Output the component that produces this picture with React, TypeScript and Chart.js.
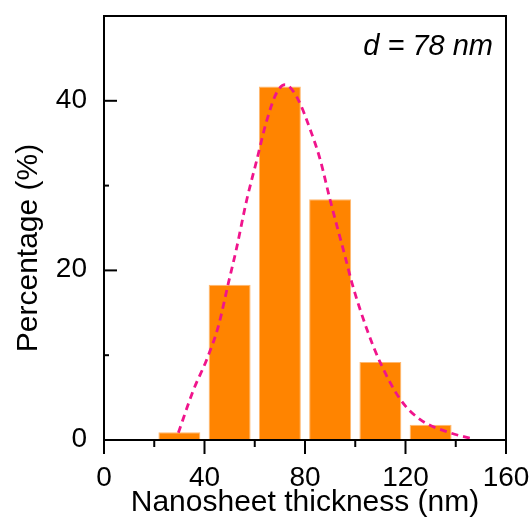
import { useEffect, useRef } from 'react';
import { Chart, registerables } from 'chart.js';

Chart.register(...registerables);

// Histogram bins (nm) and percentages
const binCenters = [30, 50, 70, 90, 110, 130];
const percentages = [0.9, 18.3, 41.7, 28.4, 9.2, 1.8];

// Fitted distribution curve
const fitX = [29.6, 35.6, 40.9, 45.5, 49.5, 52.6, 56.8, 60.8, 64.8, 68.8, 72.1, 76.8, 82.7, 86.1, 90.0, 96.0, 98.7, 104.7, 110.0, 117.9, 125.9, 137.8, 146.5];
const fitY = [0.85, 5.9, 9.5, 13.4, 18.5, 22.4, 28.3, 33.0, 37.7, 41.0, 41.9, 40.4, 36.1, 33.0, 28.3, 21.6, 18.5, 13.0, 9.1, 4.8, 2.4, 0.85, 0.15];

const xLabelValues = [0, 40, 80, 120, 160];
const yLabelValues = [0, 20, 40];

const xTitle = 'Nanosheet thickness (nm)';
const yTitle = 'Percentage (%)';
const annotation = 'd = 78 nm';

const FONT = '"Liberation Sans", Arial, Helvetica, sans-serif';

const decor = {
  id: 'decor',
  afterDatasetsDraw(chart: any) {
    const { ctx, chartArea: a, scales } = chart;
    ctx.save();
    ctx.strokeStyle = '#000';
    ctx.lineWidth = 2;
    ctx.strokeRect(a.left, a.top, a.right - a.left, a.bottom - a.top);
    ctx.fillStyle = '#000';
    ctx.textBaseline = 'alphabetic';
    ctx.font = `28px ${FONT}`;
    scales.x.ticks.forEach((t: any) => {
      const px = scales.x.getPixelForValue(t.value);
      const major = xLabelValues.includes(t.value);
      ctx.beginPath();
      ctx.moveTo(px, a.bottom);
      ctx.lineTo(px, a.bottom + (major ? 14 : 7));
      ctx.stroke();
      if (major) {
        ctx.textAlign = 'center';
        ctx.fillText(String(t.value), px, a.bottom + 46);
      }
    });
    scales.y.ticks.forEach((t: any) => {
      const py = scales.y.getPixelForValue(t.value);
      const major = yLabelValues.includes(t.value);
      ctx.beginPath();
      ctx.moveTo(a.left, py);
      ctx.lineTo(a.left + (major ? 13 : 5), py);
      ctx.stroke();
      if (major) {
        ctx.textAlign = 'right';
        ctx.fillText(String(t.value), a.left - 17, py + 7);
      }
    });
    ctx.font = `italic 29px ${FONT}`;
    ctx.textAlign = 'right';
    ctx.fillText(annotation, a.right - 13, a.top + 39);

    ctx.font = `30px ${FONT}`;
    ctx.textAlign = 'center';
    ctx.fillText(xTitle, (a.left + a.right) / 2, 511);

    ctx.translate(37, 248);
    ctx.rotate(-Math.PI / 2);
    ctx.fillText(yTitle, 0, 0);
    ctx.restore();
  },
};

const zeroPad = (s: any) => {
  s.paddingLeft = 0;
  s.paddingRight = 0;
  s.paddingTop = 0;
  s.paddingBottom = 0;
};

export default function App() {
  const ref = useRef<HTMLCanvasElement>(null);
  useEffect(() => {
    if (!ref.current) return;
    const chart = new Chart(ref.current, {
      type: 'bar',
      data: {
        datasets: [
          {
            type: 'line',
            label: 'fit',
            data: fitX.map((x, i) => ({ x, y: fitY[i] })),
            borderColor: 'rgb(240,20,140)',
            borderWidth: 2.8,
            borderDash: [7, 5],
            pointRadius: 0,
            fill: false,
            cubicInterpolationMode: 'monotone',
            order: 0,
          } as any,
          {
            type: 'bar',
            label: 'percentage',
            data: binCenters.map((x, i) => ({ x, y: percentages[i] })),
            backgroundColor: '#FF8400',
            borderColor: '#FFB870',
            borderWidth: 1,
            categoryPercentage: 1,
            barPercentage: 0.835,
            order: 1,
          } as any,
        ],
      },
      options: {
        responsive: false,
        animation: false,
        devicePixelRatio: 1,
        layout: { padding: { top: 16, right: 26, left: 0, bottom: 0 } },
        plugins: { legend: { display: false }, tooltip: { enabled: false } },
        scales: {
          x: {
            type: 'linear',
            min: 0,
            max: 160,
            offset: false,
            grid: { display: false, drawTicks: false, offset: false },
            border: { display: false },
            ticks: { stepSize: 20, autoSkip: false, maxRotation: 0, display: false },
            afterFit: (s: any) => { s.height = 77; zeroPad(s); },
          },
          y: {
            type: 'linear',
            min: 0,
            max: 50,
            grid: { display: false, drawTicks: false },
            border: { display: false },
            ticks: { stepSize: 10, display: false },
            afterFit: (s: any) => { s.width = 104; zeroPad(s); },
          },
        },
      } as any,
      plugins: [decor],
    });
    return () => chart.destroy();
  }, []);
  return (
    <div style={{ position: 'absolute', left: 0, top: 0, width: 532, height: 517, background: '#fff' }}>
      <canvas ref={ref} width={532} height={517} style={{ width: 532, height: 517, display: 'block' }} />
    </div>
  );
}
